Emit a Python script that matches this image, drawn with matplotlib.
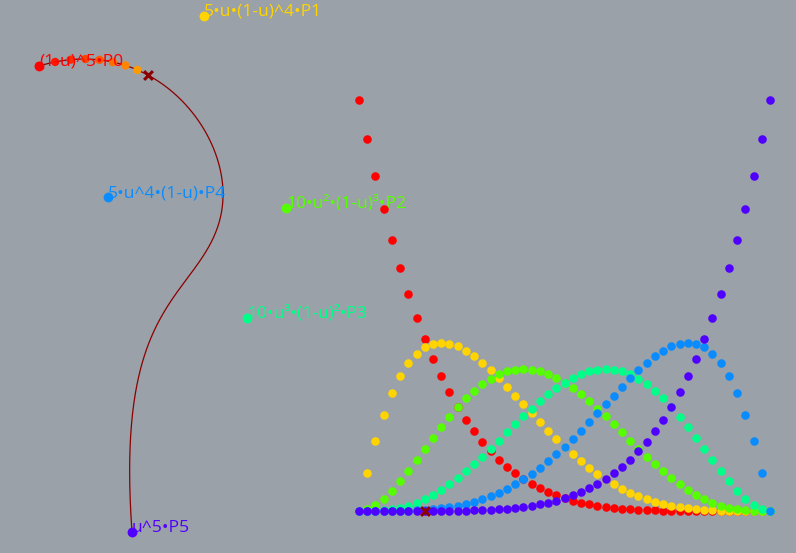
import numpy as np
import matplotlib
matplotlib.use("Agg")
import matplotlib.pyplot as plt
from matplotlib.colors import hsv_to_rgb
from math import comb

# control points (pixel-like coordinates, y downwards)
ctrl_x = [39, 204, 286, 247, 108, 132]
ctrl_y = [66, 16, 208, 318, 197, 532]
labels = ["(1-u)^5•P0", "5•u•(1-u)^4•P1", "10•u²•(1-u)³•P2",
          "10•u³•(1-u)²•P3", "5•u^4•(1-u)•P4", "u^5•P5"]
colors = ["#ff0000", "#ffd400", "#55ff00", "#00ff88", "#0a8cff", "#5000ff"]

# sampling of the parameter
u_samples = np.linspace(0, 1, 51)
u_current = 0.16

BG = "#9ba1a8"
CURVE = "#8b0000"


def bernstein(i, n, u):
    return comb(n, i) * u**i * (1 - u)**(n - i)


def bezier(u):
    bx = sum(bernstein(i, 5, u) * ctrl_x[i] for i in range(6))
    by = sum(bernstein(i, 5, u) * ctrl_y[i] for i in range(6))
    return bx, by


fig = plt.figure(figsize=(7.96, 5.53), dpi=100, facecolor=BG)

# --- left: the curve and control points ---
ax = fig.add_axes([0, 0, 1, 1])
ax.set_facecolor(BG)
ax.set_xlim(0, 796)
ax.set_ylim(553, 0)
ax.axis("off")

uu = np.linspace(0, 1, 300)
cx, cy = bezier(uu)
ax.plot(cx, cy, color=CURVE, lw=0.9, zorder=2)

for i in range(6):
    ax.scatter(ctrl_x[i], ctrl_y[i], s=50, color=colors[i], zorder=4, lw=0)
    ax.text(ctrl_x[i], ctrl_y[i], labels[i], color=colors[i], fontsize=12.6,
            family="Open Sans", ha="left", va="baseline", zorder=5)

# traced points up to current u
done = u_samples[u_samples < u_current - 1e-9]
dx, dy = bezier(done)
dcol = [hsv_to_rgb((u * 260 / 360, 1, 1)) for u in done]
ax.scatter(dx, dy, s=36, c=dcol, zorder=3, lw=0)
px, py = bezier(u_current)
ax.scatter(px, py, marker="x", s=40, color=CURVE, lw=2.2, zorder=6)

# --- right: the basis functions ---
ax2 = fig.add_axes([359 / 796, (553 - 511) / 553, 411 / 796, 411 / 553])
ax2.set_xlim(0, 1)
ax2.set_ylim(0, 1)
ax2.axis("off")
ax2.patch.set_alpha(0)

for i in range(6):
    ax2.scatter(u_samples, bernstein(i, 5, u_samples), s=38, color=colors[i],
                lw=0, clip_on=False, zorder=3 + i)
ax2.scatter(u_current, bernstein(5, 5, u_current), marker="x", s=40,
            color=CURVE, lw=2.2, clip_on=False, zorder=10)

fig.savefig("out.png", dpi=100, facecolor=BG)
